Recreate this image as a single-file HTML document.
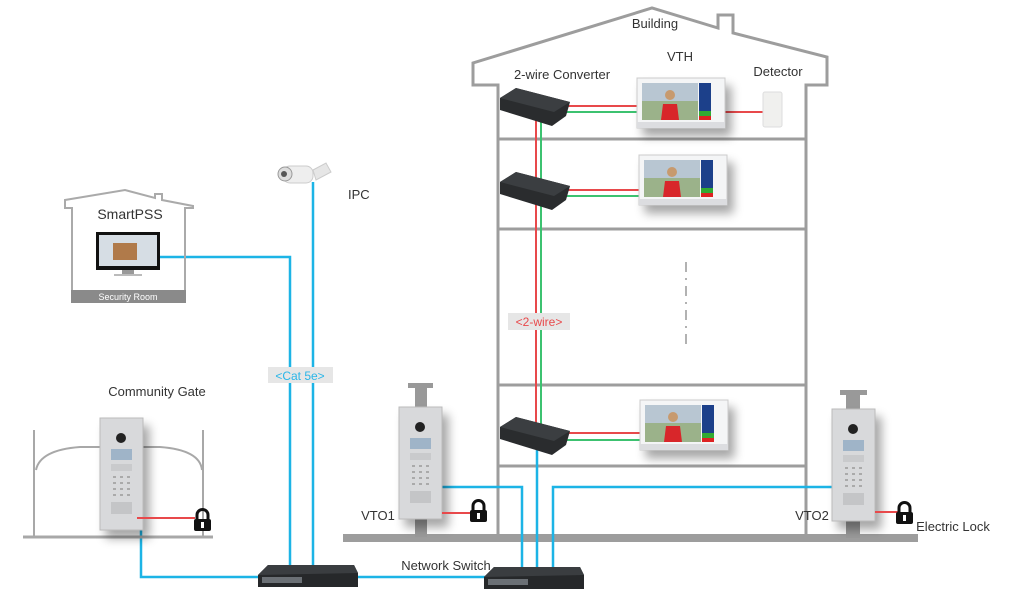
<!DOCTYPE html>
<html><head><meta charset="utf-8"><style>
html,body{margin:0;padding:0;background:#fff}
svg{display:block}
text{font-family:"Liberation Sans",sans-serif;fill:#333}
</style></head><body>
<svg width="1024" height="600" viewBox="0 0 1024 600" xmlns="http://www.w3.org/2000/svg">
<defs>
<filter id="sh" x="-40%" y="-40%" width="200%" height="200%"><feGaussianBlur in="SourceAlpha" stdDeviation="5"/><feOffset dx="6" dy="8"/><feComponentTransfer><feFuncA type="linear" slope="0.35"/></feComponentTransfer><feMerge><feMergeNode/><feMergeNode in="SourceGraphic"/></feMerge></filter>
<g id="vto">
<rect x="0" y="0" width="43" height="112" fill="#d8d9db" stroke="#bbb" stroke-width="1"/>
<circle cx="21" cy="20" r="5" fill="#222"/>
<rect x="11" y="31" width="21" height="11" fill="#9fb4c8"/>
<rect x="11" y="46" width="21" height="7" fill="#c9cacc"/>
<g fill="#aaa"><rect x="13" y="58" width="3" height="2"/><rect x="20" y="58" width="3" height="2"/><rect x="27" y="58" width="3" height="2"/>
<rect x="13" y="64" width="3" height="2"/><rect x="20" y="64" width="3" height="2"/><rect x="27" y="64" width="3" height="2"/>
<rect x="13" y="70" width="3" height="2"/><rect x="20" y="70" width="3" height="2"/><rect x="27" y="70" width="3" height="2"/>
<rect x="13" y="76" width="3" height="2"/><rect x="20" y="76" width="3" height="2"/><rect x="27" y="76" width="3" height="2"/></g>
<rect x="11" y="84" width="21" height="12" fill="#c4c5c7"/>
</g>
<g id="vth">
<rect x="0" y="0" width="88" height="50" fill="#f4f5f6" stroke="#ccc"/>
<rect x="5" y="5" width="56" height="37" fill="#9bb28a"/>
<rect x="5" y="5" width="56" height="18" fill="#b8c6d2"/>
<circle cx="33" cy="17" r="5" fill="#c79a6e"/>
<path d="M24 42 L26 26 L40 26 L42 42 Z" fill="#d8262c"/>
<rect x="62" y="5" width="12" height="28" fill="#1c3f8a"/>
<rect x="62" y="33" width="12" height="5" fill="#3a3"/><rect x="62" y="38" width="12" height="4" fill="#d22"/>
<rect x="0" y="44" width="88" height="6" fill="#dcdde0"/>
</g>
<g id="conv">
<path d="M0 10 L16 0 L70 14 L66 28 L52 38 L0 22 Z" fill="#2a2c2e"/>
<path d="M16 0 L70 14 L54 24 L0 10 Z" fill="#3b3e41"/>
</g>
<g id="sw">
<path d="M0 10 L10 0 L96 0 L100 8 L100 22 L0 22 Z" fill="#26282a"/>
<path d="M10 0 L96 0 L100 8 L0 10 Z" fill="#3a3d40"/>
<rect x="4" y="12" width="40" height="6" fill="#6b7075"/>
</g>
<g id="lock">
<path d="M3 9 V5 a5.5 5.5 0 0 1 11 0 V9" fill="none" stroke="#111" stroke-width="3"/>
<rect x="0" y="9" width="17" height="12" rx="2" fill="#111"/>
<rect x="7" y="12" width="3" height="6" fill="#fff"/>
</g>
</defs>

<!-- Building -->
<path d="M498 537 V85 H473 V63 L652 8 L718 28 V15 H733 V33 L827 57 V85 H806 V537" fill="none" stroke="#9d9d9d" stroke-width="3"/>
<g stroke="#9d9d9d" stroke-width="3">
<line x1="498" y1="139" x2="806" y2="139"/>
<line x1="498" y1="229" x2="806" y2="229"/>
<line x1="498" y1="385" x2="806" y2="385"/>
<line x1="498" y1="466" x2="806" y2="466"/>
</g>
<line x1="343" y1="538" x2="918" y2="538" stroke="#9d9d9d" stroke-width="8"/>
<line x1="686" y1="262" x2="686" y2="348" stroke="#999" stroke-width="1.5" stroke-dasharray="10 6 2 6"/>

<!-- 2-wire -->
<g fill="none" stroke-width="2">
<path d="M536 110 V425" stroke="#e8494b"/>
<path d="M541 112 V425" stroke="#3cc270"/>
<path d="M560 106 H640 M560 190 H640 M560 433 H642 M725 112 H763" stroke="#e8494b"/>
<path d="M560 112 H640 M560 196 H640 M560 440 H642" stroke="#3cc270"/>
</g>

<!-- Blue Ethernet -->
<g fill="none" stroke="#1cb4e6" stroke-width="2.5">
<path d="M160 257 H290 V568"/>
<path d="M313 182 V568"/>
<path d="M141 530 V577 H260"/>
<path d="M354 577 H486"/>
<path d="M440 487 H522 V567"/>
<path d="M537 445 V567"/>
<path d="M553 567 V487 H834"/>
</g>

<!-- Devices in building -->
<use href="#conv" x="500" y="88"/>
<use href="#conv" x="500" y="172"/>
<use href="#conv" x="500" y="417"/>
<use href="#vth" x="637" y="78" filter="url(#sh)"/>
<use href="#vth" x="639" y="155" filter="url(#sh)"/>
<use href="#vth" x="640" y="400" filter="url(#sh)"/>
<rect x="763" y="92" width="19" height="35" rx="2" fill="#f0f0ee" stroke="#ddd"/>

<rect x="508" y="313" width="62" height="17" fill="#e6e6e6"/>
<text x="539" y="326" font-size="12" text-anchor="middle" style="fill:#e8494b">&lt;2-wire&gt;</text>

<!-- SmartPSS house -->
<path d="M72 290 V208 H65 V200 L125 190 L155 198 V194 L162 194 V200 L193 206 V208 H185 V290" fill="none" stroke="#aaa" stroke-width="2"/>
<rect x="71" y="290" width="115" height="13" fill="#8a8a8a"/>
<text x="128" y="300" font-size="9" text-anchor="middle" style="fill:#fff">Security Room</text>
<rect x="96" y="232" width="64" height="38" fill="#111"/>
<rect x="99" y="235" width="58" height="31" fill="#d6dde4"/>
<rect x="113" y="243" width="24" height="17" fill="#b07a4a"/>
<rect x="122" y="270" width="12" height="4" fill="#999"/>
<rect x="114" y="274" width="28" height="2" fill="#bbb"/>

<!-- IPC -->
<g>
<rect x="283" y="166" width="30" height="17" rx="7" fill="#eee" stroke="#ccc"/>
<circle cx="285" cy="174" r="7" fill="#ddd" stroke="#999"/>
<circle cx="284" cy="174" r="3" fill="#555"/>
<path d="M313 170 L326 163 L331 172 L316 180 Z" fill="#e6e6e6" stroke="#ccc"/>
</g>

<!-- Community gate -->
<g fill="none" stroke="#a8a8a8" stroke-width="2">
<line x1="34" y1="430" x2="34" y2="537"/>
<line x1="203" y1="430" x2="203" y2="537"/>
<path d="M36 470 Q40 450 80 447 L160 447 Q200 450 202 470"/>
</g>
<line x1="23" y1="537" x2="213" y2="537" stroke="#a8a8a8" stroke-width="3"/>
<use href="#vto" x="100" y="418" filter="url(#sh)" transform="translate(0,0)"/>
<line x1="137" y1="518" x2="195" y2="518" stroke="#e8494b" stroke-width="2"/>
<use href="#lock" x="194" y="510"/>

<!-- VTO1 -->
<rect x="408" y="383" width="25" height="5" fill="#999"/>
<rect x="415" y="386" width="12" height="24" fill="#999"/>
<rect x="415" y="515" width="12" height="22" fill="#999"/>
<use href="#vto" x="399" y="407" filter="url(#sh)"/>
<line x1="442" y1="513" x2="470" y2="513" stroke="#e8494b" stroke-width="2"/>
<use href="#lock" x="470" y="501"/>

<!-- VTO2 -->
<rect x="840" y="390" width="27" height="5" fill="#999"/>
<rect x="846" y="393" width="14" height="20" fill="#999"/>
<rect x="846" y="518" width="14" height="20" fill="#999"/>
<use href="#vto" x="832" y="409" filter="url(#sh)"/>
<line x1="875" y1="512" x2="898" y2="512" stroke="#e8494b" stroke-width="2"/>
<use href="#lock" x="896" y="503"/>

<!-- Switches -->
<use href="#sw" x="258" y="565"/>
<use href="#sw" x="484" y="567"/>

<rect x="268" y="367" width="65" height="16" fill="#e6e6e6"/>
<text x="300" y="380" font-size="12" text-anchor="middle" style="fill:#2ab6e8">&lt;Cat 5e&gt;</text>

<!-- Labels -->
<g font-size="13">
<text x="655" y="28" text-anchor="middle">Building</text>
<text x="680" y="61" text-anchor="middle">VTH</text>
<text x="562" y="79" text-anchor="middle">2-wire Converter</text>
<text x="778" y="76" text-anchor="middle">Detector</text>
<text x="130" y="219" text-anchor="middle" font-size="14">SmartPSS</text>
<text x="348" y="199">IPC</text>
<text x="157" y="396" text-anchor="middle">Community Gate</text>
<text x="378" y="520" text-anchor="middle">VTO1</text>
<text x="812" y="520" text-anchor="middle">VTO2</text>
<text x="953" y="531" text-anchor="middle">Electric Lock</text>
<text x="446" y="570" text-anchor="middle">Network Switch</text>
</g>
</svg>
</body></html>
